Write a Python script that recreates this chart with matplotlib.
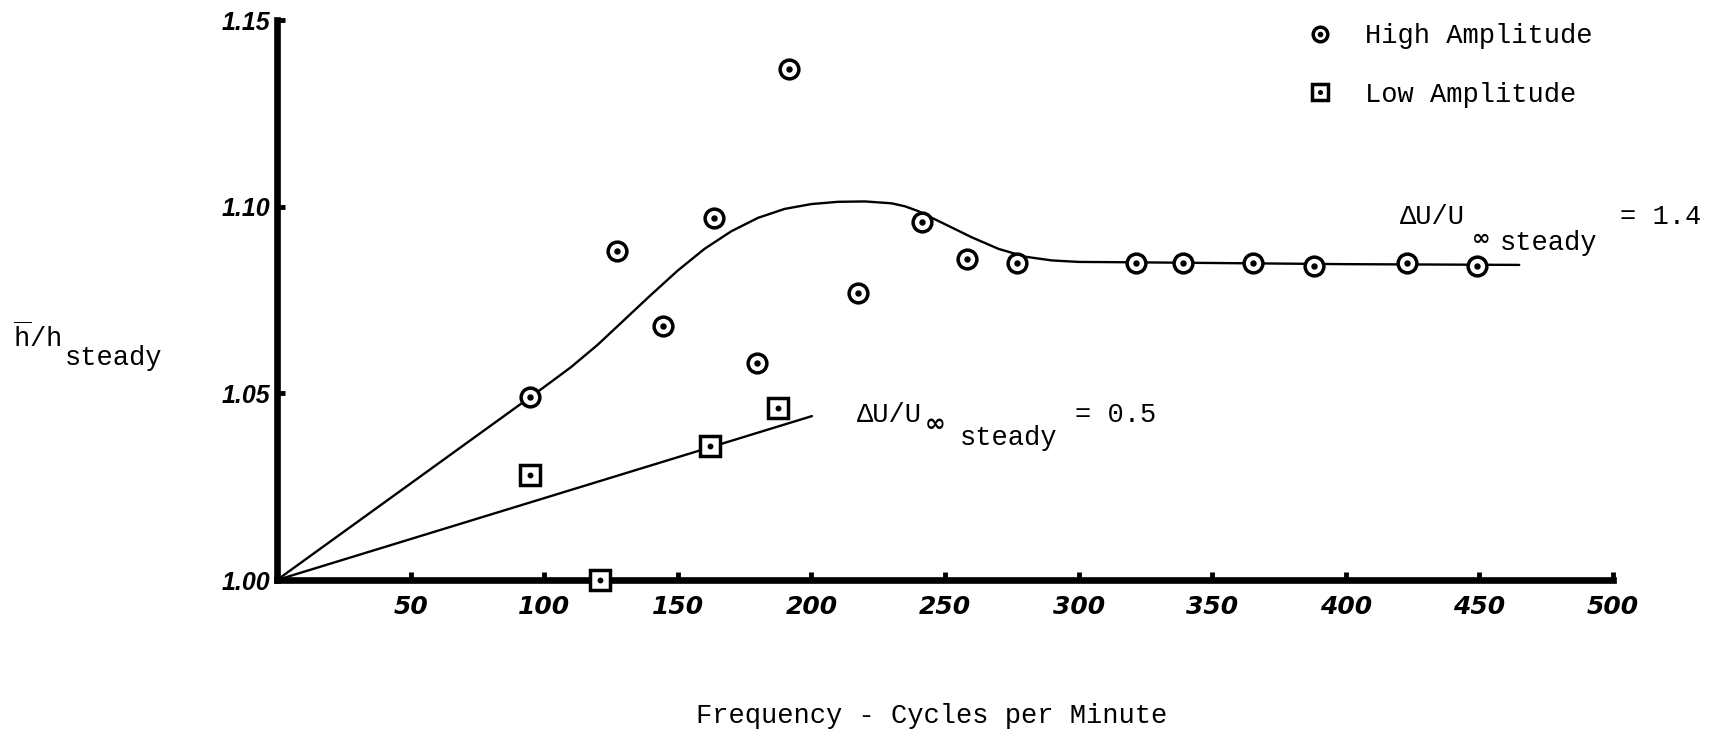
import matplotlib
matplotlib.use("Agg")
import matplotlib.pyplot as plt
from matplotlib.lines import Line2D
from matplotlib.legend_handler import HandlerTuple

# ---------------- data ----------------
high_x = [94.7, 127.4, 144.6, 163.4, 179.7, 191.7, 217.3, 241.4, 258.2, 277.0,
          321.5, 339.0, 365.2, 388.2, 422.8, 449.0]
high_y = [1.049, 1.088, 1.068, 1.097, 1.058, 1.137, 1.077, 1.096, 1.086, 1.085,
          1.085, 1.085, 1.085, 1.084, 1.085, 1.084]

low_x = [94.7, 120.9, 162.2, 187.5]
low_y = [1.028, 1.000, 1.036, 1.046]

curve_high_x = [0, 94.6, 100, 110, 120, 130, 140, 150, 160, 170, 180, 190, 200,
                210, 220, 230, 235, 240, 250, 260, 270, 280, 290, 300, 320, 400, 464.9]
curve_high_y = [1.000, 1.0489, 1.0517, 1.0570, 1.0630, 1.0697, 1.0764, 1.0829, 1.0887,
                1.0934, 1.0970, 1.0994, 1.1007, 1.1013, 1.1014, 1.1009, 1.1001, 1.0988,
                1.0953, 1.0918, 1.0887, 1.0866, 1.0856, 1.0852, 1.0851, 1.0846, 1.0844]

curve_low_x = [0, 200.2]
curve_low_y = [1.000, 1.0439]

x_ticks = [50, 100, 150, 200, 250, 300, 350, 400, 450, 500]
x_tick_labels = ["50", "100", "150", "200", "250", "300", "350", "400", "450", "500"]
y_ticks = [1.00, 1.05, 1.10, 1.15]
y_tick_labels = ["1.00", "1.05", "1.10", "1.15"]

legend_labels = ["High Amplitude", "Low Amplitude"]
x_label = "Frequency - Cycles per Minute"

# ---------------- style ----------------
plt.rcParams['mathtext.fontset'] = 'custom'
plt.rcParams['mathtext.rm'] = 'Liberation Mono'
plt.rcParams['mathtext.it'] = 'Liberation Mono'
plt.rcParams['mathtext.bf'] = 'Liberation Mono:bold'

MONO = ['Liberation Mono', 'DejaVu Sans Mono', 'DejaVu Sans']
TFS = 19.5

W, H = 1714, 738
fig = plt.figure(figsize=(W / 100, H / 100), dpi=100)
fig.patch.set_facecolor('white')


def fx(px):
    return px / W


def fy(py):
    return 1 - py / H


ax = fig.add_axes([fx(277), fy(580), fx(1613) - fx(277), fy(20) - fy(580)])
ax.set_xlim(0, 500)
ax.set_ylim(1.0, 1.15)
for s in ('top', 'right'):
    ax.spines[s].set_visible(False)
for s in ('left', 'bottom'):
    ax.spines[s].set_linewidth(4.8)
    ax.spines[s].set_capstyle('projecting')

ax.set_xticks(x_ticks)
ax.set_xticklabels(x_tick_labels)
ax.set_yticks(y_ticks)
ax.set_yticklabels(y_tick_labels)
ax.tick_params(axis='both', direction='in', length=6, width=3.5, color='black')
ax.tick_params(axis='x', pad=11)
ax.tick_params(axis='y', pad=5)
for lab in ax.get_xticklabels():
    lab.set_family('DejaVu Sans')
    lab.set_fontweight('bold')
    lab.set_fontstyle('oblique')
    lab.set_fontsize(18)
for lab in ax.get_yticklabels():
    lab.set_family('Liberation Sans')
    lab.set_fontweight('bold')
    lab.set_fontstyle('italic')
    lab.set_fontsize(18)

# curves
ax.plot(curve_high_x, curve_high_y, color='black', lw=1.7, zorder=2,
        solid_capstyle='round', solid_joinstyle='round', clip_on=False)
ax.plot(curve_low_x, curve_low_y, color='black', lw=1.7, zorder=2,
        solid_capstyle='round', clip_on=False)

# data markers
ax.plot(high_x, high_y, ls='none', marker='o', ms=13.5, mfc='white', mec='black',
        mew=2.5, zorder=4, clip_on=False)
ax.plot(high_x, high_y, ls='none', marker='o', ms=3.6, color='black', zorder=5,
        clip_on=False)
ax.plot(low_x, low_y, ls='none', marker='s', ms=14, mfc='white', mec='black',
        mew=2.5, zorder=4, clip_on=False)
ax.plot(low_x, low_y, ls='none', marker='o', ms=3.2, color='black', zorder=5,
        clip_on=False)

# legend
h_c = Line2D([], [], ls='none', marker='o', ms=10.5, mfc='white', mec='black', mew=2.5)
h_cd = Line2D([], [], ls='none', marker='o', ms=3, color='black')
h_s = Line2D([], [], ls='none', marker='s', ms=11.5, mfc='white', mec='black', mew=2.5)
h_sd = Line2D([], [], ls='none', marker='o', ms=2.6, color='black')
fig.legend([(h_c, h_cd), (h_s, h_sd)], legend_labels,
           handler_map={tuple: HandlerTuple(ndivide=1)},
           loc='upper left', bbox_to_anchor=(fx(1306), fy(23)),
           frameon=False, borderpad=0, borderaxespad=0,
           handlelength=1.0, handletextpad=1.18, labelspacing=1.2,
           prop={'family': MONO, 'size': TFS})

# axis labels
fig.text(fx(932), fy(716), x_label, ha='center', va='center',
         family=MONO, fontsize=TFS)
fig.text(fx(13), fy(338), r'$\overline{\mathrm{h}}$/h', ha='left', va='center',
         family=MONO, fontsize=TFS)
fig.text(fx(65), fy(358), 'steady', ha='left', va='center',
         family=MONO, fontsize=TFS)


# curve annotations
def du_label(x0, y0, xinf, yinf, inf_size, xst, yst, xeq, value):
    fig.text(fx(x0), fy(y0), 'ΔU/U', ha='left', va='center', family=MONO, fontsize=TFS)
    fig.text(fx(xinf), fy(yinf), '∞', ha='left', va='center',
             family=['DejaVu Sans'], fontweight='bold', fontsize=inf_size)
    fig.text(fx(xst), fy(yst), 'steady', ha='left', va='center', family=MONO, fontsize=TFS)
    fig.text(fx(xeq), fy(y0), '= ' + value, ha='left', va='center', family=MONO, fontsize=TFS)


du_label(1400, 217, 1472, 239, 16, 1500, 243, 1620, '1.4')
du_label(857, 415, 925, 424, 18, 960, 438, 1075, '0.5')

fig.savefig('out.png', dpi=100, facecolor='white')
